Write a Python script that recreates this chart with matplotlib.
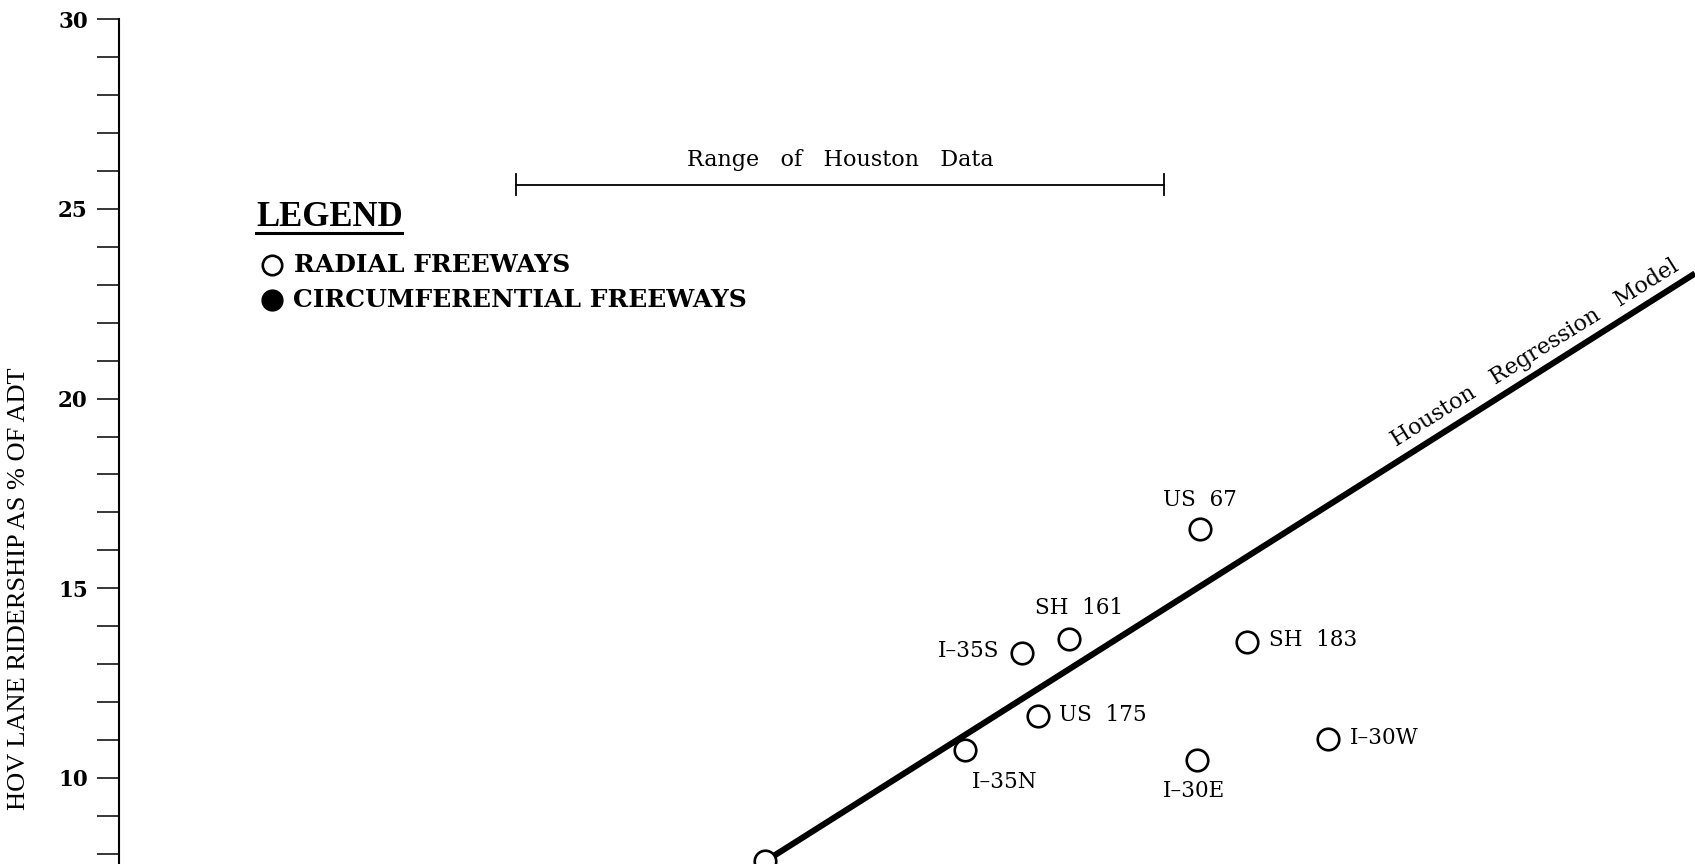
import matplotlib
matplotlib.use("Agg")
import matplotlib.pyplot as plt
from matplotlib.lines import Line2D
import numpy as np

# Freeway observations (x in index units, y = HOV lane ridership as % of ADT)
freeways = ["US 67", "SH 161", "I–35S", "SH 183", "US 175", "I–35N", "I–30E", "I–30W", ""]
x_vals = [68.6, 60.3, 57.3, 71.6, 58.3, 53.7, 68.4, 76.7, 41.0]
y_vals = [16.55, 13.65, 13.28, 13.59, 11.62, 10.74, 10.48, 11.03, 7.81]

# Houston regression model: y = intercept + slope * x
reg_intercept = -2.97
reg_slope = 0.2627

# Range of Houston data along x
houston_range = [25.2, 66.3]
houston_range_y = 25.64

y_ticks_major = [10, 15, 20, 25, 30]
y_ticks_minor = list(range(8, 31))

W, H, DPI = 1695, 864, 100
fig = plt.figure(figsize=(W / DPI, H / DPI), dpi=DPI)
left = 119 / W
ax = fig.add_axes([left, 0.0, 1 - left, 1.0])
ax.set_xlim(0, 100)
ax.set_ylim(7.73, 30.51)

serif = ["DejaVu Serif"]

# axes styling: only the left spine with outward ticks
for s in ["top", "right", "bottom"]:
    ax.spines[s].set_visible(False)
ax.spines["left"].set_bounds(7.73, 30)
ax.spines["left"].set_linewidth(1.5)
ax.set_xticks([])
ax.set_yticks(y_ticks_major)
ax.set_yticks(y_ticks_minor, minor=True)
ax.tick_params(axis="y", which="both", direction="out", length=16, width=1.1,
               pad=6.5, labelsize=15.5)
for lab in ax.get_yticklabels():
    lab.set_fontfamily(serif)
    lab.set_fontweight("bold")

fig.text(19.5 / W, 1 - 589 / H, "HOV LANE RIDERSHIP AS % OF ADT", rotation=90,
         ha="center", va="center", fontsize=19, family=["Liberation Serif"])

# regression line
xl = np.array([0, 100])
ax.plot(xl, reg_intercept + reg_slope * xl, color="black", lw=4.4,
        solid_capstyle="butt", zorder=2)
label_x = 89.85
ax.text(label_x, reg_intercept + reg_slope * label_x + 0.56,
        "Houston   Regression   Model", rotation=32.0, rotation_mode="anchor",
        ha="center", va="center", fontsize=16, family=serif)

# freeway points
ax.plot(x_vals, y_vals, linestyle="none", marker="o", markersize=15.5,
        markerfacecolor="white", markeredgecolor="black", markeredgewidth=1.9,
        zorder=3, clip_on=False)

label_offsets = {
    "US 67": (0, 29, "center", "center"),
    "SH 161": (10, 31, "center", "center"),
    "I–35S": (-23, 2, "right", "center"),
    "SH 183": (22, 2, "left", "center"),
    "US 175": (21, 1, "left", "center"),
    "I–35N": (39, -32, "center", "center"),
    "I–30E": (-3, -31, "center", "center"),
    "I–30W": (22, 1, "left", "center"),
}
for name, x, y in zip(freeways, x_vals, y_vals):
    if not name:
        continue
    dx, dy, ha, va = label_offsets[name]
    ax.annotate(name.replace(" ", "  "), (x, y), xytext=(dx, dy),
                textcoords="offset pixels", ha=ha, va=va, fontsize=15.5,
                family=serif)

# range of Houston data
ax.plot(houston_range, [houston_range_y] * 2, color="black", lw=1.3)
for xr in houston_range:
    ax.plot([xr, xr], [houston_range_y - 0.27, houston_range_y + 0.27],
            color="black", lw=1.3)
ax.text(sum(houston_range) / 2, houston_range_y + 0.36, "Range   of   Houston   Data",
        ha="center", va="bottom", fontsize=16, family=serif)

# legend block
def fx(px):
    return px / W

def fy(py):
    return 1 - py / H

fig.text(fx(256), fy(218), "LEGEND", ha="left", va="center", fontsize=25,
         fontweight="bold", family=["Liberation Serif"])
fig.add_artist(Line2D([fx(256), fx(402)], [fy(233), fy(233)], color="black", lw=2.2))
fig.add_artist(Line2D([fx(272)], [fy(265)], marker="o", markersize=14,
                      markerfacecolor="white", markeredgecolor="black",
                      markeredgewidth=1.9, linestyle="none"))
fig.add_artist(Line2D([fx(272)], [fy(299.5)], marker="o", markersize=15,
                      markerfacecolor="black", markeredgecolor="black",
                      linestyle="none"))
fig.text(fx(294), fy(265), "RADIAL FREEWAYS", ha="left", va="center",
         fontsize=18, fontweight="bold", family=serif)
fig.text(fx(293), fy(299.5), "CIRCUMFERENTIAL FREEWAYS", ha="left", va="center",
         fontsize=18, fontweight="bold", family=serif)

fig.savefig("out.png", dpi=DPI, facecolor="white")
